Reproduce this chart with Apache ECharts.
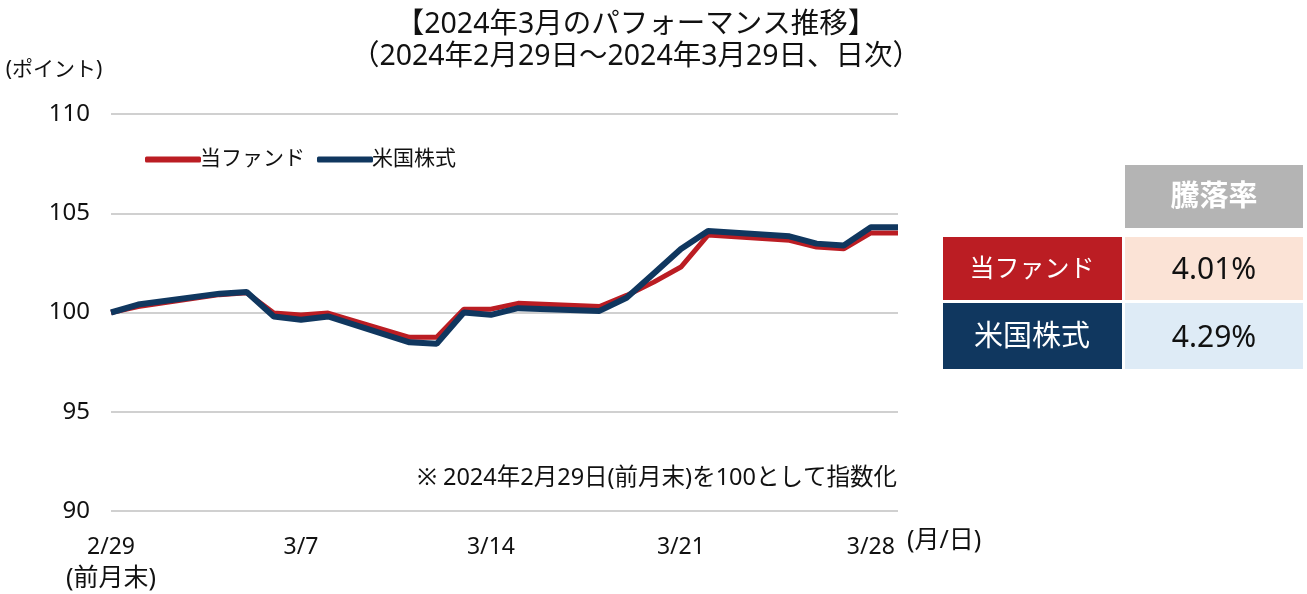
<!DOCTYPE html>
<html><head><meta charset="utf-8">
<script src="https://cdn.jsdelivr.net/npm/echarts@6/dist/echarts.min.js"></script>
<style>html,body{margin:0;padding:0;background:#fff}#c{width:1307px;height:594px}</style>
</head><body><div id="c"></div>
<script>
const FONT = '"Noto Sans","Noto Sans CJK JP",sans-serif';
const dates = ['2/29','3/1','3/2','3/3','3/4','3/5','3/6','3/7','3/8','3/9','3/10','3/11','3/12','3/13','3/14','3/15','3/16','3/17','3/18','3/19','3/20','3/21','3/22','3/23','3/24','3/25','3/26','3/27','3/28','3/29'];
const fund = [100, 100.3, null, null, 100.9, 101.0, 99.97, 99.88, 99.97, null, null, 98.75, 98.75, 100.17, 100.17, 100.46, null, null, 100.3, 100.86, 101.53, 102.29, 103.9, null, null, 103.64, 103.3, 103.21, 104.01, 104.01];
const us = [100, 100.4, null, null, 100.95, 101.03, 99.8, 99.63, 99.8, null, null, 98.5, 98.42, 100.0, 99.88, 100.22, null, null, 100.08, 100.74, 101.97, 103.2, 104.1, null, null, 103.84, 103.47, 103.38, 104.29, 104.29];
const seriesNames = ['当ファンド', '米国株式'];
const tickLabelIdx = [0, 7, 14, 21, 28];
const tableHeader = '騰落率';
const tableValues = ['4.01%', '4.29%'];

const RED = '#bb1d23', NAVY = '#10375f';
const chart = echarts.init(document.getElementById('c'));
const cell = (x, y, w, h, fill) => ({type:'rect', shape:{x, y, width:w, height:h}, style:{fill}});
const txt = (x, y, t, size, color, weight, align) => ({type:'text', x, y, style:{text:t, fill:color, font: (weight||'normal')+' '+size+'px '+FONT, align:align||'center', verticalAlign:'middle'}});

chart.setOption({
  animation:false,
  title:{text:'【2024年3月のパフォーマンス推移】\n（2024年2月29日～2024年3月29日、日次）', left:631, top:4, textAlign:'center',
    textStyle:{fontFamily:FONT, fontSize:28.5, fontWeight:'normal', color:'#111', lineHeight:32}},
  legend:{left:140, top:144, itemWidth:56, itemHeight:6, itemGap:12, icon:'roundRect',
    textStyle:{fontFamily:FONT, fontSize:21, color:'#111', padding:[0,0,0,-6]}, data:seriesNames},
  grid:{left:111, right:409, top:114, bottom:83, outerBoundsMode:'none', containLabel:false},
  xAxis:{type:'category', data:dates, boundaryGap:false,
    axisLine:{show:false}, axisTick:{show:false},
    axisLabel:{interval:(i)=>tickLabelIdx.includes(i), margin:20, fontFamily:FONT, fontSize:23, color:'#111', lineHeight:32,
      formatter:(v, i)=> i===0 ? v+'\n{b|(前月末)}' : v,
      rich:{b:{fontFamily:FONT, fontSize:25, color:'#111', lineHeight:32}}}},
  yAxis:{type:'value', min:90, max:110, interval:5,
    axisLine:{show:false}, axisTick:{show:false},
    axisLabel:{margin:21, fontFamily:FONT, fontSize:24, color:'#111'},
    splitLine:{lineStyle:{color:'#d0d0d0', width:2}}},
  series:[
    {name:seriesNames[0], type:'line', data:fund, connectNulls:true, symbol:'none', z:2,
      color:RED, lineStyle:{color:RED, width:5}},
    {name:seriesNames[1], type:'line', data:us, connectNulls:true, symbol:'none', z:3,
      color:NAVY, lineStyle:{color:NAVY, width:6}}
  ],
  graphic:[
    txt(54, 70, '(ポイント)', 21, '#111', 'normal', 'center'),
    txt(907, 541, '(月/日)', 25, '#111', 'normal', 'left'),
    txt(897, 478, '※ 2024年2月29日(前月末)を100として指数化', 23.5, '#111', 'normal', 'right'),
    cell(1125, 165, 178, 63, '#b4b4b4'),
    txt(1214, 198, tableHeader, 29, '#fff', 'bold'),
    cell(943, 237, 179, 63, RED),
    cell(1125, 237, 178, 63, '#fbe3d6'),
    txt(1032, 270, seriesNames[0], 25, '#fff'),
    txt(1214, 270, tableValues[0], 30, '#111'),
    cell(943, 303, 179, 66, NAVY),
    cell(1125, 303, 178, 66, '#deebf6'),
    txt(1032, 338, seriesNames[1], 29, '#fff'),
    txt(1214, 338, tableValues[1], 30, '#111')
  ]
});
</script></body></html>
